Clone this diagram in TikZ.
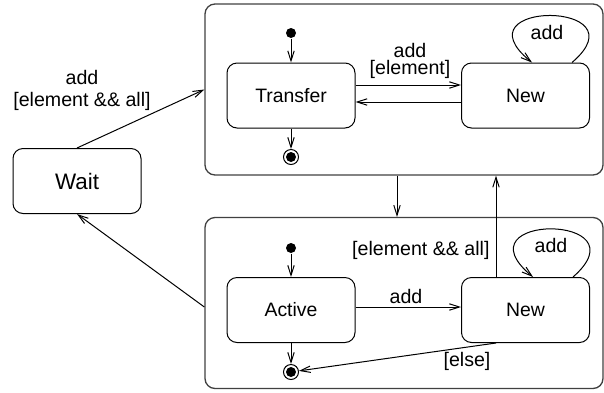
\documentclass[tikz,border=0pt]{standalone}
\usepackage{fontspec}
\setmainfont{Liberation Sans}
\usetikzlibrary{arrows.meta}
\begin{document}
\begin{tikzpicture}[x=0.5pt,y=-0.5pt,
  >={Straight Barb[length=5pt,width=3.2pt]},
  every path/.style={line width=0.5pt},
  comp/.style={draw=black!75, line width=0.65pt, rounded corners=5pt, minimum width=199pt, minimum height=85.5pt, inner sep=0pt},
  state/.style={draw, rounded corners=5pt, minimum width=64pt, minimum height=32.5pt, inner sep=0pt, font=\fontsize{9.7}{11}\selectfont},
  initial/.style={circle, fill=black, minimum size=5pt, inner sep=0pt},
  final/.style={circle, draw, line width=0.5pt, minimum size=7.5pt, inner sep=0pt, path picture={\fill (path picture bounding box.center) circle (2.5pt);}},
  lbl/.style={inner sep=0pt, align=center, font=\fontsize{9.8}{11}\selectfont},
  tr/.style={->}
]
\useasboundingbox (0,0) rectangle (604,392);
% composites
\node[comp] (topC) at (404,89.5) {};
\node[comp] (botC) at (404,303) {};
% states
\node[state, font=\fontsize{11.2}{13}\selectfont] (wait) at (77,181) {Wait};
\node[state] (transfer) at (291,95.5) {Transfer};
\node[state] (newT) at (525.5,95.5) {New};
\node[state] (active) at (291,310) {Active};
\node[state] (newB) at (525.5,310) {New};
% pseudo states
\node[initial] (initT) at (291,33) {};
\node[final] (finT) at (291,157) {};
\node[initial] (initB) at (291,248) {};
\node[final] (finB) at (291,372) {};
% top composite transitions
\draw[tr] (initT) -- (transfer);
\draw[tr] (transfer) -- (finT);
\draw[tr] (transfer.east |- 0,85) -- (newT.west |- 0,85);
\draw[tr] (newT.west |- 0,102) -- (transfer.east |- 0,102);
\node[lbl, font=\fontsize{9.8}{8.5}\selectfont] (lblTN) at (410,61) {add\\{}[element]};
\draw[tr] (newT.north -| 572,0) .. controls (645,0) and (455,0) .. (newT.north -| 532,0);
\node[lbl] (lblLoopT) at (547,32) {add};
% bottom composite transitions
\draw[tr] (initB) -- (active);
\draw[tr] (active) -- (finB);
\draw[tr] (active.east |- 0,307) -- (newB.west |- 0,307);
\node[lbl] (lblAN) at (406,296) {add};
\draw[tr] (newB.north -| 573,0) .. controls (646,213) and (456,213) .. (newB.north -| 533,0);
\node[lbl] (lblLoopB) at (551,245) {add};
\draw[tr] (newB.south -| 496,0) -- (finB);
\node[lbl] (lblElse) at (467,361) {[else]};
% between composites
\draw[tr] (topC.south -| 397,0) -- (botC.north -| 397,0);
\draw[tr] (newB.north -| 496,0) -- (topC.south -| 496,0);
\node[lbl, anchor=east] (lblEA) at (490,250) {[element \&\& all]};
% wait
\draw[tr] (wait.north) -- (topC.west);
\node[lbl] (lblWait) at (82,90) {add\\{}[element \&\& all]};
\draw[tr] (botC.west |- 0,307) -- (wait.south);
\end{tikzpicture}
\end{document}
